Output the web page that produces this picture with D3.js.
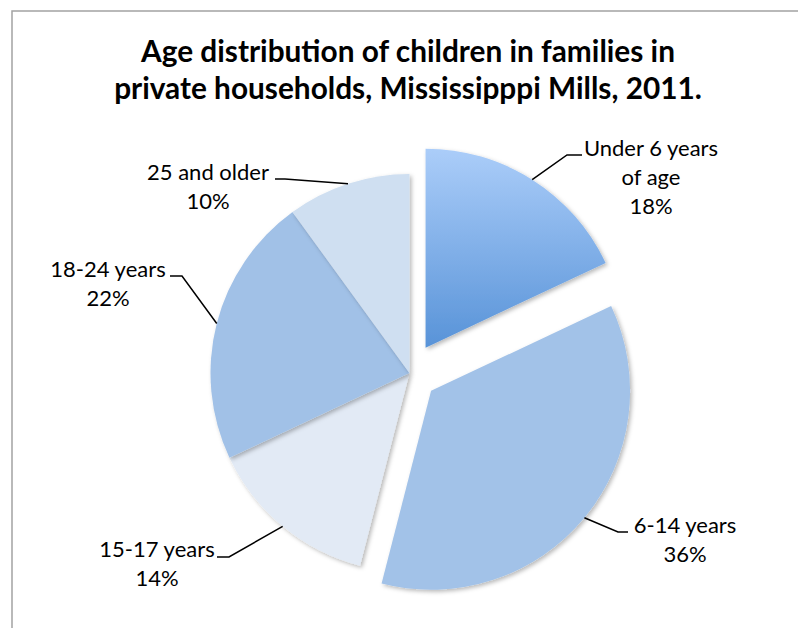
<!DOCTYPE html>
<html>
<head>
<meta charset="utf-8">
<script src="https://cdn.jsdelivr.net/npm/d3@7"></script>
<style>
  html, body { margin: 0; padding: 0; background: #fff; }
  svg { display: block; }
  text { font-family: Lato, "Open Sans", sans-serif; fill: #000; }
</style>
</head>
<body>
<svg id="chart" width="798" height="628"></svg>
<script>
// Age groups and their share of children (%)
const categories = ["Under 6 years of age", "6-14 years", "15-17 years", "18-24 years", "25 and older"];
const shares = [18, 36, 14, 22, 10];
const labelLines = [["Under 6 years", "of age"], ["6-14 years"], ["15-17 years"], ["18-24 years"], ["25 and older"]];
const titleLines = ["Age distribution of children in families in", "private households, Mississipppi Mills, 2011."];

// Styling and layout
const sliceColors = [null, "#a2c2e8", "#e2eaf5", "#a1c1e7", "#cfdff1"];
const explodeBy = [30, 28, 0, 0, 0];
const W = 798, H = 628;
const cx = 409.5, cy = 373, R = 199;
const labelLayout = [
  { x: 651, y: 156, elbow: [567, 155], end: [582, 155] },
  { x: 685, y: 533, elbow: [618, 532], end: [628, 532] },
  { x: 157, y: 557, elbow: [229, 557], end: [217, 557] },
  { x: 108, y: 277, elbow: [182, 276], end: [170, 276] },
  { x: 208, y: 180, elbow: [285, 179], end: [275, 179] }
];

const svg = d3.select("#chart");
const defs = svg.append("defs");

const grad = defs.append("linearGradient")
  .attr("id", "under6Fill").attr("x1", 0).attr("y1", 0).attr("x2", 0).attr("y2", 1);
grad.append("stop").attr("offset", "0%").attr("stop-color", "#abcdf9");
grad.append("stop").attr("offset", "100%").attr("stop-color", "#5893d8");

const shadow = defs.append("filter").attr("id", "sliceShadow")
  .attr("x", "-10%").attr("y", "-10%").attr("width", "120%").attr("height", "120%");
shadow.append("feDropShadow")
  .attr("dx", 2).attr("dy", 2).attr("stdDeviation", 2)
  .attr("flood-color", "#000").attr("flood-opacity", 0.28);

// Chart frame
svg.append("rect")
  .attr("x", 12).attr("y", 11).attr("width", W + 20).attr("height", H + 20)
  .attr("fill", "none").attr("stroke", "#a3a3a3").attr("stroke-width", 1.5);

// Title
svg.append("text")
  .attr("x", 408).attr("text-anchor", "middle")
  .attr("font-weight", "bold").attr("font-size", 29.8)
  .selectAll("tspan").data(titleLines).join("tspan")
  .attr("x", 408).attr("y", (d, i) => 62 + i * 37)
  .text(d => d);

const pie = d3.pie().sort(null).value(d => d);
const arcs = pie(shares);
const arc = d3.arc().innerRadius(0).outerRadius(R);

const g = svg.append("g").attr("transform", `translate(${cx},${cy})`);

function offset(d, i) {
  const mid = (d.startAngle + d.endAngle) / 2;
  return d3.pointRadial(mid, explodeBy[i]);
}

g.selectAll("path.slice").data(arcs).join("path")
  .attr("class", "slice")
  .attr("d", arc)
  .attr("transform", (d, i) => { const [ox, oy] = offset(d, i); return `translate(${ox},${oy})`; })
  .attr("fill", (d, i) => sliceColors[i] || "url(#under6Fill)")
  .attr("filter", "url(#sliceShadow)");

// Leader lines from each slice's outer edge to its label
svg.selectAll("path.leader").data(arcs).join("path")
  .attr("class", "leader")
  .attr("fill", "none").attr("stroke", "#000").attr("stroke-width", 1.5)
  .attr("d", (d, i) => {
    const mid = (d.startAngle + d.endAngle) / 2;
    const [ox, oy] = offset(d, i);
    const [px, py] = d3.pointRadial(mid, R);
    const L = labelLayout[i];
    return d3.line()([[cx + ox + px, cy + oy + py], L.elbow, L.end]);
  });

// Labels: category name and percentage
const labels = svg.selectAll("text.label").data(arcs).join("text")
  .attr("class", "label")
  .attr("text-anchor", "middle").attr("font-size", 22);
labels.each(function (d, i) {
  const L = labelLayout[i];
  const lines = labelLines[i].concat([`${shares[i]}%`]);
  d3.select(this).selectAll("tspan").data(lines).join("tspan")
    .attr("x", L.x).attr("y", (t, k) => L.y + k * 29)
    .text(t => t);
});
</script>
</body>
</html>
